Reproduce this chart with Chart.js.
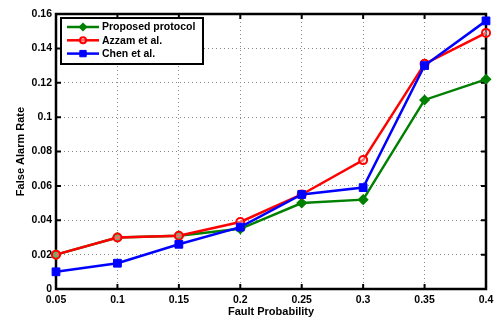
<!DOCTYPE html>
<html>
<head>
<meta charset="utf-8">
<title>False Alarm Rate</title>
<script src="https://cdn.jsdelivr.net/npm/chart.js"></script>
<style>
  html, body { margin: 0; padding: 0; background: #fff; }
</style>
</head>
<body>
<canvas id="myChart" width="501" height="320"></canvas>
<script>
// data
var faultProb = [0.05, 0.1, 0.15, 0.2, 0.25, 0.3, 0.35, 0.4];
var proposed  = [0.020, 0.030, 0.031, 0.035, 0.050, 0.052, 0.110, 0.122];
var azzam     = [0.020, 0.030, 0.031, 0.039, 0.055, 0.075, 0.131, 0.149];
var chen      = [0.010, 0.015, 0.026, 0.036, 0.055, 0.059, 0.130, 0.156];
var seriesNames = ['Proposed protocol', 'Azzam et al.', 'Chen et al.'];
var xTicks = [0.05, 0.1, 0.15, 0.2, 0.25, 0.3, 0.35, 0.4];
var yTicks = [0, 0.02, 0.04, 0.06, 0.08, 0.1, 0.12, 0.14, 0.16];

var FONT = '"Liberation Sans", Arial, Helvetica, sans-serif';

function pts(ys) {
  return faultProb.map(function (x, i) { return { x: x, y: ys[i] }; });
}

// MATLAB style box with inward ticks
var framePlugin = {
  id: 'framePlugin',
  beforeDatasetsDraw: function (chart) {
    var a = chart.chartArea, c = chart.ctx;
    var xs = chart.scales.x, ys = chart.scales.y;
    c.save();
    c.setLineDash([]);
    c.strokeStyle = '#000';
    c.lineWidth = 2;
    c.beginPath();
    xTicks.forEach(function (v) {
      var p = xs.getPixelForValue(v);
      c.moveTo(p, a.bottom); c.lineTo(p, a.bottom - 5);
      c.moveTo(p, a.top); c.lineTo(p, a.top + 5);
    });
    yTicks.forEach(function (v) {
      var p = ys.getPixelForValue(v);
      c.moveTo(a.left, p); c.lineTo(a.left + 5, p);
      c.moveTo(a.right, p); c.lineTo(a.right - 5, p);
    });
    c.stroke();
    c.lineWidth = 2.5;
    c.strokeRect(a.left, a.top, a.right - a.left, a.bottom - a.top);
    c.restore();
  }
};

// legend box inside the plot, top left
var legendPlugin = {
  id: 'legendPlugin',
  afterDraw: function (chart) {
    var a = chart.chartArea, c = chart.ctx;
    var bx = a.left + 5, by = a.top + 4, bw = 142, bh = 46;
    c.save();
    c.setLineDash([]);
    c.fillStyle = '#fff';
    c.fillRect(bx, by, bw, bh);
    c.strokeStyle = '#000';
    c.lineWidth = 2;
    c.strokeRect(bx, by, bw, bh);
    c.font = 'bold 10.5px ' + FONT;
    c.textBaseline = 'middle';
    c.textAlign = 'left';
    chart.data.datasets.forEach(function (ds, i) {
      var y = by + 9 + i * 13.3;
      c.strokeStyle = ds.borderColor;
      c.lineWidth = 2.5;
      c.beginPath();
      c.moveTo(bx + 6, y); c.lineTo(bx + 38, y);
      c.stroke();
      c.fillStyle = ds.pointBackgroundColor;
      c.strokeStyle = ds.pointBorderColor;
      c.lineWidth = ds.pointBorderWidth;
      Chart.helpers.drawPoint(c, { pointStyle: ds.pointStyle, radius: ds.pointRadius - 1, borderWidth: ds.pointBorderWidth, rotation: 0 }, bx + 22, y);
      c.fillStyle = '#000';
      c.fillText(seriesNames[i], bx + 41, y + 0.5);
    });
    c.restore();
  }
};

var ctx = document.getElementById('myChart');
var myChart = new Chart(ctx, {
  type: 'line',
  data: {
    datasets: [
      {
        label: seriesNames[0],
        data: pts(proposed),
        borderColor: '#008000',
        backgroundColor: '#008000',
        pointBackgroundColor: '#008000',
        pointBorderColor: '#008000',
        pointStyle: 'rectRot',
        pointRadius: 4.5,
        pointBorderWidth: 1.5,
        borderWidth: 2.5,
        order: 3
      },
      {
        label: seriesNames[1],
        data: pts(azzam),
        borderColor: '#ff0000',
        backgroundColor: '#ff0000',
        pointBackgroundColor: 'rgba(255,255,255,0.4)',
        pointBorderColor: '#ff0000',
        pointStyle: 'circle',
        pointRadius: 4,
        pointBorderWidth: 2,
        borderWidth: 2.5,
        order: 2
      },
      {
        label: seriesNames[2],
        data: pts(chen),
        borderColor: '#0000ff',
        backgroundColor: '#0000ff',
        pointBackgroundColor: '#0000ff',
        pointBorderColor: '#0000ff',
        pointStyle: 'rect',
        pointRadius: 5.5,
        pointBorderWidth: 1,
        borderWidth: 2.5,
        order: 1
      }
    ]
  },
  plugins: [framePlugin, legendPlugin],
  options: {
    responsive: false,
    animation: false,
    devicePixelRatio: 1,
    clip: false,
    layout: { padding: { top: 14, right: 15, left: 0, bottom: 0 } },
    elements: { line: { tension: 0 } },
    plugins: {
      legend: { display: false },
      tooltip: { enabled: false }
    },
    scales: {
      x: {
        type: 'linear',
        min: 0.05,
        max: 0.4,
        afterBuildTicks: function (s) { s.ticks = xTicks.map(function (v) { return { value: v }; }); },
        afterFit: function (s) { s.height = 31; },
        ticks: {
          autoSkip: false,
          maxRotation: 0,
          padding: 5,
          color: '#000',
          font: { family: FONT, size: 10.5, weight: 'bold' },
          callback: function (v) { return String(Number(v.toFixed(2))); }
        },
        grid: { color: '#888', lineWidth: 1, drawTicks: false },
        border: { display: false, dash: [1, 3] },
        title: {
          display: true,
          text: 'Fault Probability',
          color: '#000',
          font: { family: FONT, size: 11, weight: 'bold' },
          padding: { top: 0, bottom: 1.5 }
        }
      },
      y: {
        type: 'linear',
        min: 0,
        max: 0.16,
        afterBuildTicks: function (s) { s.ticks = yTicks.map(function (v) { return { value: v }; }); },
        afterFit: function (s) { s.width = 56; },
        ticks: {
          padding: 4,
          color: '#000',
          font: { family: FONT, size: 10.5, weight: 'bold' },
          callback: function (v) { return String(Number(v.toFixed(2))); }
        },
        grid: { color: '#888', lineWidth: 1, drawTicks: false },
        border: { display: false, dash: [1, 3] },
        title: {
          display: true,
          text: 'False Alarm Rate',
          color: '#000',
          font: { family: FONT, size: 11, weight: 'bold' },
          padding: { top: 14, bottom: 0 }
        }
      }
    }
  }
});
</script>
</body>
</html>
